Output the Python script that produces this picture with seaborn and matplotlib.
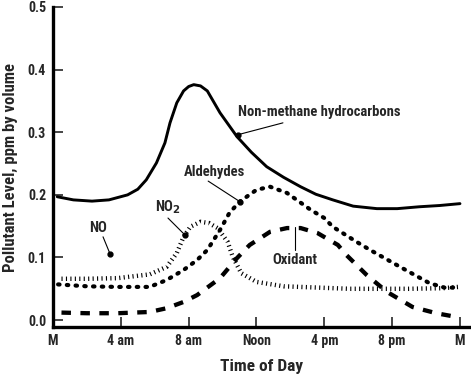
import matplotlib
matplotlib.use("Agg")
import matplotlib.pyplot as plt
import seaborn as sns
import pandas as pd
from matplotlib import font_manager

sns.set_style("ticks")
avail = {f.name for f in font_manager.fontManager.ttflist}
FAM = [f for f in ["Liberation Sans Narrow", "Roboto Condensed", "DejaVu Sans"] if f in avail]
plt.rcParams['font.family'] = FAM

# ---------------- data (hours after midnight, ppm) ----------------
hc_hours = [0.25, 1.2, 2.3, 3.3, 4.4, 5.0, 5.5, 6.1, 6.6, 6.9, 7.3, 7.7, 8.0, 8.3, 8.7, 9.1, 9.85,
            10.85, 11.7, 12.6, 13.6, 14.6, 15.5, 16.5, 17.7, 19.1, 20.3, 21.6, 22.8, 24.0]
hc_vals = [0.197, 0.192, 0.190, 0.192, 0.200, 0.209, 0.224, 0.251, 0.283, 0.315, 0.347, 0.366, 0.373,
           0.376, 0.374, 0.366, 0.331, 0.293, 0.268, 0.245, 0.228, 0.213, 0.201, 0.192, 0.182,
           0.178, 0.178, 0.181, 0.183, 0.186]

ald_hours = [0.3, 2.0, 3.8, 5.7, 6.7, 7.7, 8.5, 9.1, 9.85, 10.4, 11.0, 12.0, 12.8, 13.8, 15.2, 16.0,
             16.5, 17.9, 18.7, 20.6, 22.2, 23.2, 23.9]
ald_vals = [0.057, 0.054, 0.053, 0.053, 0.064, 0.080, 0.096, 0.112, 0.144, 0.171, 0.189, 0.208, 0.213,
            0.203, 0.176, 0.163, 0.149, 0.125, 0.112, 0.083, 0.059, 0.051, 0.053]

no2_hours = [0.5, 2.0, 3.8, 5.7, 6.7, 7.3, 7.7, 8.1, 8.7, 9.2, 9.7, 10.3, 10.6, 11.1, 12.0, 13.6,
             17.5, 21.0, 23.0, 23.9]
no2_vals = [0.066, 0.066, 0.067, 0.073, 0.085, 0.107, 0.133, 0.149, 0.157, 0.155, 0.147, 0.125, 0.101,
            0.075, 0.061, 0.054, 0.050, 0.050, 0.051, 0.053]

ox_hours = [0.5, 2.0, 3.8, 5.7, 6.7, 7.7, 8.5, 9.85, 10.85, 11.6, 12.8, 13.8, 14.6, 15.6, 16.8,
            17.3, 18.5, 19.7, 21.2, 22.6, 23.8]
ox_vals = [0.012, 0.011, 0.011, 0.013, 0.019, 0.029, 0.040, 0.067, 0.099, 0.120, 0.141, 0.147, 0.147,
           0.139, 0.120, 0.104, 0.072, 0.045, 0.021, 0.011, 0.005]

x_ticks = [0, 4, 8, 12, 16, 20, 24]
x_labels = ["M", "4 am", "8 am", "Noon", "4 pm", "8 pm", "M"]
y_ticks = [0.0, 0.1, 0.2, 0.3, 0.4, 0.5]
y_labels = ["0.0", "0.1", "0.2", "0.3", "0.4", "0.5"]

# ---------------- figure ----------------
fig = plt.figure(figsize=(4.71, 3.76), dpi=100)
ax = fig.add_axes([53/471, 49/376, 418/471, 320/376])

df_hc = pd.DataFrame({"h": hc_hours, "v": hc_vals})
df_ald = pd.DataFrame({"h": ald_hours, "v": ald_vals})
df_no2 = pd.DataFrame({"h": no2_hours, "v": no2_vals})
df_ox = pd.DataFrame({"h": ox_hours, "v": ox_vals})

sns.lineplot(data=df_hc, x="h", y="v", ax=ax, color="black", lw=2.1, solid_capstyle="round")
sns.lineplot(data=df_ald, x="h", y="v", ax=ax, color="black", lw=3.0,
             linestyle=(0, (0.35, 1.75)), dash_capstyle="round")
sns.lineplot(data=df_no2, x="h", y="v", ax=ax, color="black", lw=3.2,
             linestyle=(0, (0.25, 0.75)), dash_capstyle="butt")
sns.lineplot(data=df_ox, x="h", y="v", ax=ax, color="black", lw=3.1,
             linestyle=(0, (2.2, 2.2)), dash_capstyle="butt")

ax.set_xlim(0, 24.65)
ax.set_ylim(-0.011, 0.5)
ax.set_xticks(x_ticks)
ax.set_xticklabels(x_labels)
ax.set_yticks(y_ticks)
ax.set_yticklabels(y_labels)
ax.tick_params(axis="both", direction="in", length=7, width=1.2, labelsize=10, pad=5)
for lab in ax.get_xticklabels() + ax.get_yticklabels():
    lab.set_fontweight("bold")
for s in ["top", "right"]:
    ax.spines[s].set_visible(False)
for s in ["left", "bottom"]:
    ax.spines[s].set_linewidth(2.4)
    ax.spines[s].set_color("black")

ax.set_xlabel("Time of Day", fontsize=12.5, fontweight="bold", labelpad=8)
ax.set_ylabel("Pollutant Level, ppm by volume", fontsize=12, fontweight="bold", labelpad=7)

# ---------------- annotations ----------------
ax.text(10.9, 0.333, "Non-methane hydrocarbons", ha="left", va="center",
        fontsize=10.5, fontweight="bold")
ax.plot([13.56, 10.9], [0.315, 0.296], color="black", lw=0.8)
ax.plot([10.9], [0.296], "o", color="black", ms=3.5)

ax.text(7.7, 0.237, "Aldehydes", ha="left", va="center", fontsize=10.5, fontweight="bold")
ax.plot([9.15, 11.03], [0.222, 0.189], color="black", lw=0.8)
ax.plot([11.03], [0.189], "o", color="black", ms=3.5)

ax.text(6.8, 0.181, "NO$_\\mathbf{2}$", ha="center", va="center", fontsize=10.5, fontweight="bold")
ax.plot([6.78, 7.78], [0.163, 0.136], color="black", lw=0.8)
ax.plot([7.78], [0.136], "o", color="black", ms=3.5)

ax.text(2.65, 0.147, "NO", ha="center", va="center", fontsize=10.5, fontweight="bold")
ax.plot([2.95, 3.36], [0.133, 0.106], color="black", lw=0.8)
ax.plot([3.36], [0.106], "o", color="black", ms=3.5)

ax.text(14.27, 0.096, "Oxidant", ha="center", va="center", fontsize=10.5, fontweight="bold")
ax.plot([14.3, 14.3], [0.112, 0.148], color="black", lw=0.8)

fig.savefig("out.png", dpi=100, facecolor="white")
